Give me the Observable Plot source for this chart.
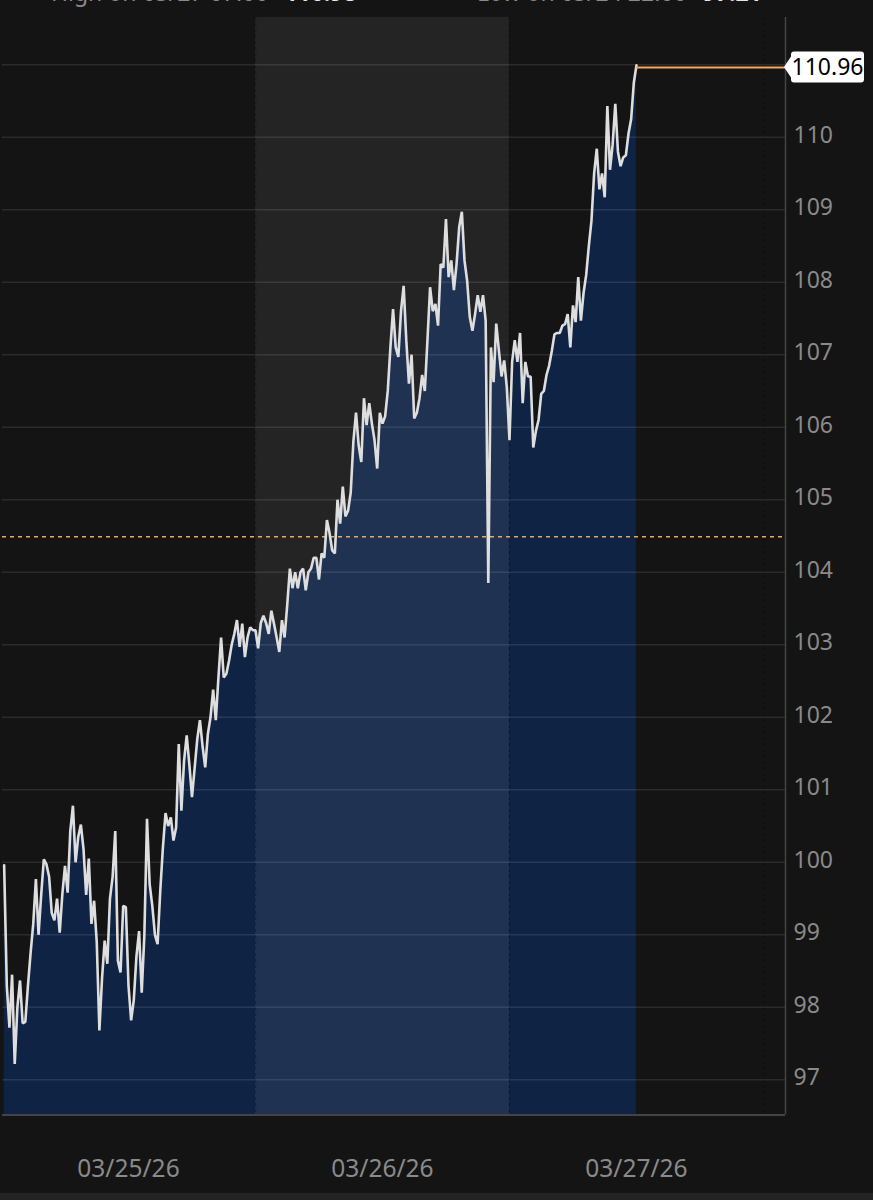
<!DOCTYPE html>
<html>
<head>
<meta charset="utf-8">
<script src="https://cdn.jsdelivr.net/npm/d3@7"></script>
<script src="https://cdn.jsdelivr.net/npm/@observablehq/plot@0.6"></script>
<style>
html,body{margin:0;padding:0;background:#141414;}
body{position:relative;width:873px;height:1200px;overflow:hidden;font-family:"Noto Sans",sans-serif;}
#chart svg{display:block;}
.hdr{position:absolute;top:-20px;font-size:23px;line-height:24px;color:#8a8a8a;white-space:nowrap;}
.hdr b{color:#e6e6e6;margin-left:16px;}
#strip{position:absolute;left:0;right:0;top:1193px;height:7px;background:#232323;}
</style>
</head>
<body>
<div id="chart"></div>
<div class="hdr" style="left:51px">High on 03/27 07:00<b>110.98</b></div>
<div class="hdr" style="left:477px">Low on 03/24 22:00<b>97.21</b></div>
<div id="strip"></div>
<script>
const startTime = "2026-03-25T00:15:00Z";
const stepMinutes = 15;
const prices = [
99.96,98.3,97.72,98.45,97.22,98.0,98.37,97.78,97.8,98.3,
98.75,99.15,99.77,99.0,99.55,100.04,99.97,99.8,99.3,99.2,
99.5,99.03,99.56,99.95,99.58,100.43,100.78,100.0,100.35,100.52,
100.18,99.55,100.05,99.15,99.47,98.9,97.68,98.4,98.92,98.6,
99.5,99.8,100.43,98.64,98.48,99.4,99.38,98.3,97.82,98.1,
98.7,99.05,98.2,99.0,100.6,99.7,99.4,99.0,98.87,99.6,
100.2,100.68,100.5,100.62,100.3,100.48,101.63,100.71,101.4,101.75,
101.35,100.9,101.3,101.7,101.96,101.6,101.31,101.77,102.0,102.38,
101.96,102.55,103.1,102.55,102.6,102.78,103.0,103.15,103.34,102.97,
103.29,102.83,103.1,103.24,103.2,103.2,102.95,103.3,103.4,103.3,
103.15,103.47,103.29,103.1,102.9,103.34,103.1,103.55,104.05,103.78,
104.0,103.78,104.0,104.05,103.75,104.0,104.05,104.2,104.2,103.9,
104.26,104.2,104.72,104.54,104.3,104.26,105.0,104.67,105.18,104.77,
104.85,105.1,105.8,106.2,105.75,105.52,106.4,106.03,106.33,106.05,
105.82,105.43,106.2,106.05,106.15,106.5,107.1,107.63,107.1,106.97,
107.6,107.95,107.2,106.6,107.0,106.12,106.2,106.4,106.72,106.5,
107.2,107.93,107.6,107.7,107.4,108.25,108.2,108.87,108.07,108.3,
107.89,108.25,108.76,108.97,108.3,108.02,107.52,107.33,107.56,107.82,
107.59,107.82,107.47,103.85,107.1,106.62,107.43,107.06,106.7,106.92,
106.55,105.82,106.9,107.2,106.9,107.3,106.33,106.9,106.7,106.7,
105.72,105.95,106.1,106.46,106.5,106.72,106.85,107.05,107.28,107.3,
107.3,107.4,107.42,107.56,107.1,107.68,107.45,108.07,107.47,107.85,
108.1,108.5,108.85,109.5,109.84,109.28,109.5,109.17,110.43,109.55,
109.9,110.46,109.8,109.6,109.72,109.75,110.05,110.25,110.75,110.99
];
const lastPrice = 110.96;
const referenceLevel = 104.49;
const gridValues = [97,98,99,100,101,102,103,104,105,106,107,108,109,110,111];
const tickValues = [97,98,99,100,101,102,103,104,105,106,107,108,109,110];
const dayLabels = ["03/25/26","03/26/26","03/27/26"];
const labelTimes = ["2026-03-25T12:00Z","2026-03-26T12:00Z","2026-03-27T12:00Z"].map(d=>new Date(d));
const dayBreaks = ["2026-03-26T00:00Z","2026-03-27T00:00Z","2026-03-28T00:00Z"].map(d=>new Date(d));
const shadedDay = [new Date("2026-03-26T00:00Z"), new Date("2026-03-27T00:00Z")];
const xDomain = [new Date("2026-03-25T00:05:40Z"), new Date("2026-03-28T02:05:00Z")];
const yDomain = [96.515, 111.65];

const t0 = +new Date(startTime);
const series = prices.map((p,i)=>({t:new Date(t0+i*stepMinutes*60000),p}));
const lastT = series[series.length-1].t;
const lastLabel = [{t:xDomain[1],p:lastPrice}];

function priceTag(index, scales){
  const x = scales.x(xDomain[1]), y = scales.y(lastPrice);
  const l = x+6, r = x+79, top = y-15.5, bot = y+15.5, c = 3;
  return d3.create("svg:path")
    .attr("fill","#fff")
    .attr("d",`M${x-1},${y}L${l},${top+5}L${l},${top+c}Q${l},${top} ${l+c},${top}L${r-c},${top}Q${r},${top} ${r},${top+c}L${r},${bot-c}Q${r},${bot} ${r-c},${bot}L${l+c},${bot}Q${l},${bot} ${l},${bot-c}L${l},${bot-5}Z`)
    .node();
}

const plot = Plot.plot({
  width:873, height:1200,
  marginLeft:2, marginRight:88, marginTop:17, marginBottom:85.5,
  style:{background:"#141414",color:"#000",fontFamily:"'Noto Sans',sans-serif",overflow:"visible"},
  x:{type:"utc",domain:xDomain},
  y:{domain:yDomain},
  marks:[
    Plot.areaY(series,{x:"t",y1:yDomain[0],y2:"p",fill:"#0f2344"}),
    Plot.rect([shadedDay],{x1:d=>d[0],x2:d=>d[1],y1:yDomain[0],y2:yDomain[1],fill:"#fff",fillOpacity:0.07}),
    Plot.ruleX(dayBreaks,{stroke:"#000",strokeOpacity:0.25,strokeDasharray:"3,3",strokeWidth:1.5}),
    Plot.ruleY(gridValues,{stroke:"#fff",strokeOpacity:0.1,strokeWidth:1.5}),
    Plot.ruleX([xDomain[1]],{stroke:"#444",strokeWidth:1.5}),
    Plot.ruleY([yDomain[0]],{stroke:"#444",strokeWidth:2}),
    Plot.ruleY([referenceLevel],{stroke:"#eaa95c",strokeWidth:1.5,strokeDasharray:"4,4"}),
    Plot.line(series,{x:"t",y:"p",stroke:"#dedede",strokeWidth:2.6,strokeLinejoin:"miter"}),
    Plot.ruleY([lastPrice],{x1:lastT,x2:xDomain[1],stroke:"#f2a85a",strokeWidth:2}),
    Plot.axisY(tickValues,{anchor:"right",tickSize:0,tickPadding:8,dy:-2,fontSize:23,fill:"#8a8a8a",label:null,tickFormat:d=>String(d)}),
    Plot.axisX(labelTimes,{anchor:"bottom",tickSize:0,tickPadding:0,dy:45,fontSize:24.5,fill:"#8a8a8a",label:null,tickFormat:(d,i)=>dayLabels[i]}),
    priceTag,
    Plot.text(lastLabel,{x:"t",y:"p",text:d=>d.p.toFixed(2),dx:42,dy:0,fontSize:23,fill:"#000"})
  ]
});
document.getElementById("chart").appendChild(plot);
</script>
</body>
</html>
